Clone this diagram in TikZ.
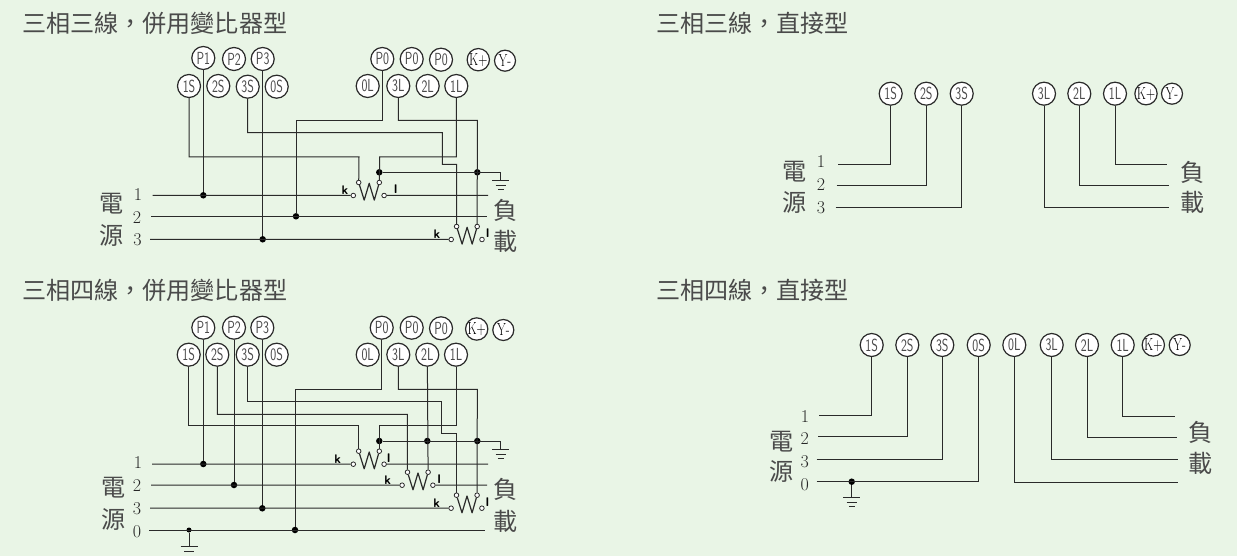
\documentclass[tikz,border=0pt]{standalone}
\usepackage{fontspec}
\usepackage{graphicx}
\newfontfamily\cjk{Noto Sans CJK TC}
\definecolor{panelbg}{HTML}{E9F5E6}
\definecolor{inkgray}{HTML}{4A4A4A}
\definecolor{wirecol}{HTML}{2A2A2A}
\tikzset{
  wire/.style={color=wirecol,line width=1pt},
  termbig/.style={circle,draw=wirecol,fill=white,line width=1.2pt,minimum size=23pt,inner sep=0pt,text=inkgray,font=\sffamily\fontsize{17.5}{17.5}\selectfont},
  termsmall/.style={circle,draw=wirecol,fill=white,line width=1.2pt,minimum size=21pt,inner sep=0pt,text=black,font=\fontsize{17.5}{17.5}\selectfont},
  tap/.style={circle,draw=wirecol,fill=white,line width=0.8pt,minimum size=4.6pt,inner sep=0pt},
  joint/.style={circle,fill=black,minimum size=6.5pt,inner sep=0pt},
  smalljoint/.style={circle,fill=black,minimum size=5pt,inner sep=0pt},
  title/.style={anchor=west,text=inkgray,font=\cjk\fontsize{24.1}{25}\selectfont,inner sep=0pt},
  hanzi/.style={text=inkgray,font=\cjk\fontsize{24.1}{25}\selectfont,inner sep=0pt},
  digit/.style={text=black!85,font=\fontsize{18}{18}\selectfont,inner sep=0pt},
  coilmark/.style={text=black,font=\sffamily\bfseries\fontsize{12.5}{13}\selectfont,inner sep=0pt}
}
% #1 name, #2 centre x, #3 bus y, #4 k offset, #5 l offset
\newcommand{\ctcoil}[5]{
  \node[tap] (#1a) at ({#2-10},{#3-12.8}) {};
  \node[tap] (#1b) at ({#2+10.6},{#3-12.8}) {};
  \node[tap] (#1l) at ({#2-15.4},{#3+0.2}) {};
  \node[tap] (#1r) at ({#2+15.4},{#3+0.2}) {};
  \draw[wire,line width=1.2pt,line join=round] (#1a) -- ({#2-4.5},{#3+4.8}) -- ({#2+0.5},{#3-12}) -- ({#2+5.6},{#3+4.8}) -- (#1b);
  \node[coilmark] (#1k) at ({#2+#4},{#3-5.2}) {k};
  \node[coilmark] (#1m) at ({#2+#5},{#3-6}) {l};
}
% #1 name, #2 x, #3 y
\newcommand{\groundbars}[3]{
  \coordinate (#1) at (#2,#3);
  \draw[wire] ({#2-8.5},#3) -- ({#2+8.5},#3);
  \draw[wire] ({#2-5},{#3+4.6}) -- ({#2+5},{#3+4.6});
  \draw[wire] ({#2-2.8},{#3+9}) -- ({#2+2.8},{#3+9});
}
\newcommand{\cjkcomma}{\char"FF0C\relax}
\begin{document}
\begin{tikzpicture}[x=1pt,y=-1pt]
\fill[panelbg] (0,0) rectangle (1237,556);
\useasboundingbox (0,0) rectangle (1237,556);
\node[title] (aTitle) at (22,23) {三相三線\cjkcomma 併用變比器型};
\node[title] (bTitle) at (656,23) {三相三線\cjkcomma 直接型};
\node[title] (cTitle) at (22,290) {三相四線\cjkcomma 併用變比器型};
\node[title] (dTitle) at (656,290) {三相四線\cjkcomma 直接型};
\foreach \n/\t/\x/\y in {aP1/P1/203.3/58,aP2/P2/234/59,aP3/P3/262.7/59,aA/P0/382.3/59,aB/P0/411.7/59,aC/P0/441/59.7,
  aS1/1S/189/86,aS2/2S/218.3/86,aS3/3S/247.7/86.7,aS0/0S/276.7/86.7,aL0/0L/367.7/86,aL3/3L/398.3/86,aL2/2L/427.7/86,aL1/1L/456.3/86,
  bS1/1S/890.7/93.7,bS2/2S/926.3/93.7,bS3/3S/961.7/93.7,bL3/3L/1044/93.7,bL2/2L/1079.3/93.7,bL1/1L/1115/93.7,
  cP1/P1/203.3/327.7,cP2/P2/234/327.7,cP3/P3/262.3/327.7,cA/P0/381.7/327.7,cB/P0/411.7/327.7,cC/P0/441/328.3,
  cS1/1S/188.7/354.7,cS2/2S/217.3/354.7,cS3/3S/247.7/354.7,cS0/0S/276.7/354.7,cL0/0L/367.7/354.7,cL3/3L/398.3/354.7,cL2/2L/427.3/354.7,cL1/1L/456/354.7,
  dS1/1S/871.7/345,dS2/2S/907.3/345,dS3/3S/942.3/345,dS0/0S/978.7/345,dL0/0L/1014.3/345,dL3/3L/1051.7/345,dL2/2L/1087/345,dL1/1L/1122.7/345}
  \node[termbig] (\n) at (\x,\y) {\scalebox{0.72}[1]{\t}};
\foreach \n/\t/\x/\y in {aK/K+/478.3/59.7,aY/Y-/505/60.7,bK/K+/1146/93.7,bY/Y-/1172/93.7,cK/K+/476.7/329,cY/Y-/503.3/330,dK/K+/1153.3/345,dY/Y-/1179.7/345}
  \node[termsmall] (\n) at (\x,\y) {\scalebox{0.72}[1]{\t}};
\foreach \n/\t/\x/\y in {aD1/1/138/195,aD2/2/137/218,aD3/3/137.5/240,bD1/1/821/162,bD2/2/821/185,bD3/3/821/208,
  cD1/1/138/463,cD2/2/137/486,cD3/3/137/509,cD0/0/137/532,dD1/1/805/416.7,dD2/2/804.7/438.7,dD3/3/804.7/462,dD0/0/804.7/485}
  \node[digit] (\n) at (\x,\y) {\t};
\foreach \n/\t/\x/\y in {aH1/電/111.7/204,aH2/源/111.7/235,aH3/負/506/210,aH4/載/506/241,bH1/電/795/171.7,bH2/源/795/202.7,bH3/負/1193/172.7,bH4/載/1193/202.7,
  cH1/電/114/488,cH2/源/114/519,cH3/負/506/489,cH4/載/506/521,dH1/電/781.7/441.7,dH2/源/781.7/471.7,dH3/負/1200.7/432.7,dH4/載/1200.7/463.3}
  \node[hanzi] (\n) at (\x,\y) {\t};
\ctcoil{aT1}{368.7}{195.3}{-23.7}{27}
\ctcoil{aT2}{466.6}{239.3}{-29.6}{21}
\ctcoil{cT1}{368.7}{464}{-31}{20}
\ctcoil{cT2}{417.5}{485}{-29.8}{21.8}
\ctcoil{cT3}{466.5}{508}{-29.8}{21}
\foreach \n/\x/\y in {aJ1/203.3/195.3,aJ2/296/216.3,aJ3/262.7/239.3,aJ4/379.3/172.3,aJ5/477.3/172.3,
  cJ1/203.3/464,cJ2/234/485,cJ3/262.3/508.3,cJ4/295/530,cJ5/379.3/441,cJ6/427.3/441,cJ7/477.3/441,dJ1/851.7/481.7}
  \node[joint] (\n) at (\x,\y) {};
\node[smalljoint] (cJ0) at (189,530) {};
\foreach \n/\x/\y in {aB1s/152.7/195.3,aB1e/488/195.3,aB2s/151/216.3,aB2e/487/216.3,aB3s/150/239.3,
  cB1s/152/464,cB1e/488/464,cB2s/151/485,cB2e/487/485,cB3s/150/508,cB0s/149/530,cB0e/485/530,
  bB1s/838.3/164.3,bB2s/836.7/185.3,bB3s/835.7/208,bB1e/1166.7/164.7,bB2e/1169/185.7,bB3e/1169/208,
  dB1s/819.3/415.3,dB2s/818/436.3,dB3s/816.7/459.3,dB0s/816.7/481.7,dB1e/1175/416,dB2e/1176.7/437,dB3e/1177.7/459.3,dB0e/1177.7/482,
  aK1/359/157,aK2/442.3/132.7,aK3/442.3/164.3,aK4/456.7/164.3,aK5/379.7/157,aK6/296/120.3,aK7/477.3/120.3,
  cK1/358.7/425.3,cK2/407.3/414.3,cK3/441.3/401,cK4/441.3/433,cK5/456.5/433,cK6/379.3/425.3,cK7/295/389.3,cK8/477.3/389.3}
  \coordinate (\n) at (\x,\y);
\groundbars{aE}{500.7}{181}
\groundbars{dE}{851.7}{497.7}
\groundbars{cE}{500.7}{449.5}
\coordinate (cF) at (189,546.7);
\draw[wire] (180.5,546.7) -- (197.5,546.7);
\draw[wire] (184,551) -- (194,551);
\draw[wire] (aB1s) -- (aT1l) (aT1r) -- (aB1e);
\draw[wire] (aB2s) -- (aB2e);
\draw[wire] (aB3s) -- (aT2l);
\draw[wire] (aP1) -- (aJ1);
\draw[wire] (aP3) -- (aJ3);
\draw[wire] (aS1) |- (aK1) -- (aT1a);
\draw[wire] (aS3) |- (aK2) -- (aK3) -- (aK4) -- (aT2a);
\draw[wire] (aJ2) |- (aK6) -| (aA);
\draw[wire] (aL1) |- (aK5) -- (aT1b);
\draw[wire] (aL3) |- (aK7) -- (aT2b);
\draw[wire] (aJ4) -| (aE);
\draw[wire] (bB1s) -| (bS1);
\draw[wire] (bB2s) -| (bS2);
\draw[wire] (bB3s) -| (bS3);
\draw[wire] (bL1) |- (bB1e);
\draw[wire] (bL2) |- (bB2e);
\draw[wire] (bL3) |- (bB3e);
\draw[wire] (cB1s) -- (cT1l) (cT1r) -- (cB1e);
\draw[wire] (cB2s) -- (cT2l) (cT2r) -- (cB2e);
\draw[wire] (cB3s) -- (cT3l);
\draw[wire] (cB0s) -- (cB0e);
\draw[wire] (cP1) -- (cJ1);
\draw[wire] (cP2) -- (cJ2);
\draw[wire] (cP3) -- (cJ3);
\draw[wire] (cS1) |- (cK1) -- (cT1a);
\draw[wire] (cS2) |- (cK2) -- (cT2a);
\draw[wire] (cS3) |- (cK3) -- (cK4) -- (cK5) -- (cT3a);
\draw[wire] (cJ4) |- (cK7) -| (cA);
\draw[wire] (cL1) |- (cK6) -- (cT1b);
\draw[wire] (cL2) -- (cT2b);
\draw[wire] (cL3) |- (cK8) -- (cT3b);
\draw[wire] (cJ5) -| (cE);
\draw[wire] (cJ0) -- (cF);
\draw[wire] (dB1s) -| (dS1);
\draw[wire] (dB2s) -| (dS2);
\draw[wire] (dB3s) -| (dS3);
\draw[wire] (dB0s) -| (dS0);
\draw[wire] (dL0) |- (dB0e);
\draw[wire] (dL3) |- (dB3e);
\draw[wire] (dL2) |- (dB2e);
\draw[wire] (dL1) |- (dB1e);
\draw[wire] (dJ1) -- (dE);
\end{tikzpicture}
\end{document}
